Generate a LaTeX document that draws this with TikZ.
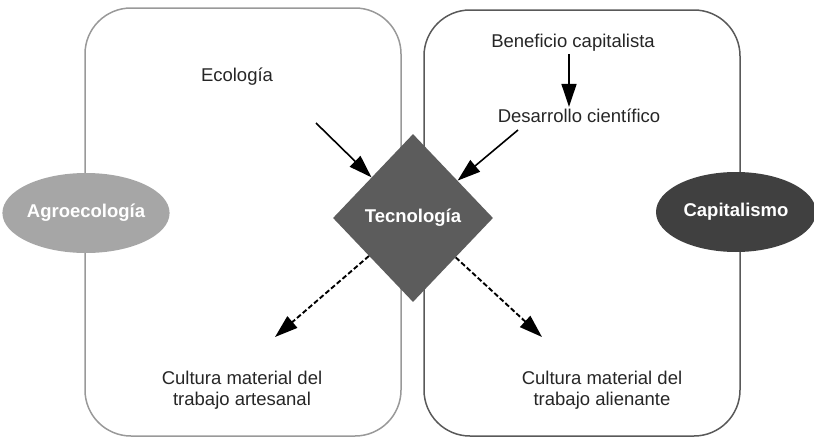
\documentclass[tikz,border=0pt]{standalone}
\usepackage{fontspec}
\setmainfont{Liberation Sans}
\usetikzlibrary{shapes.geometric,arrows.meta}
\begin{document}
\begin{tikzpicture}[x=1pt,y=-1pt,
  font=\fontsize{18.5}{21}\selectfont,
  panel/.style={draw, line width=1.5pt, rounded corners=46pt},
  label/.style={text=black!85, inner sep=2pt, align=center},
  blob/.style={ellipse, minimum width=160pt, minimum height=80pt, inner sep=0pt, text=white, font=\fontsize{18.5}{21}\selectfont\bfseries},
  arr/.style={line width=1.6pt, -{Triangle[length=23pt,width=15pt]}},
  darr/.style={arr, line width=1.9pt, dash pattern=on 5pt off 2.5pt}]
\useasboundingbox (0,0) rectangle (814,439);
% the two frames
\draw[panel, draw=black!40] (85,8) rectangle (401,436);
\draw[panel, draw=black!65] (424,10) rectangle (740,436);
% the two doctrines at either side
\node[blob, fill=black!35] (agro) at (86,213) {Agroecología};
\node[blob, fill=black!75] (cap) at (736,212) {Capitalismo};
% central diamond
\node[diamond, fill=black!64, minimum width=160pt, minimum height=168pt, inner sep=0pt, text=white, font=\fontsize{18.5}{21}\selectfont\bfseries] (tec) at (413,218) {Tecnología};
% texts
\node[label] (eco) at (237,77) {Ecología};
\node[label] (ben) at (573,43) {Beneficio capitalista};
\node[label] (des) at (579,116) {Desarrollo científico};
\node[label] (art) at (242,390) {Cultura material del\\trabajo artesanal};
\node[label] (ali) at (602,390) {Cultura material del\\trabajo alienante};
% free ends of the connectors
\coordinate (ecoS) at (316,123);
\coordinate (desS) at (518,130);
\coordinate (artE) at (275,337);
\coordinate (aliE) at (542,337);
% connectors
\draw[arr] ([xshift=-4pt]ben.south) -- ([xshift=-4pt]ben.south |- des.north);
\draw[arr] (ecoS) -- (tec);
\draw[arr] (desS) -- (tec);
\draw[darr] (tec) -- (artE);
\draw[darr] (tec) -- (aliE);
\end{tikzpicture}
\end{document}
